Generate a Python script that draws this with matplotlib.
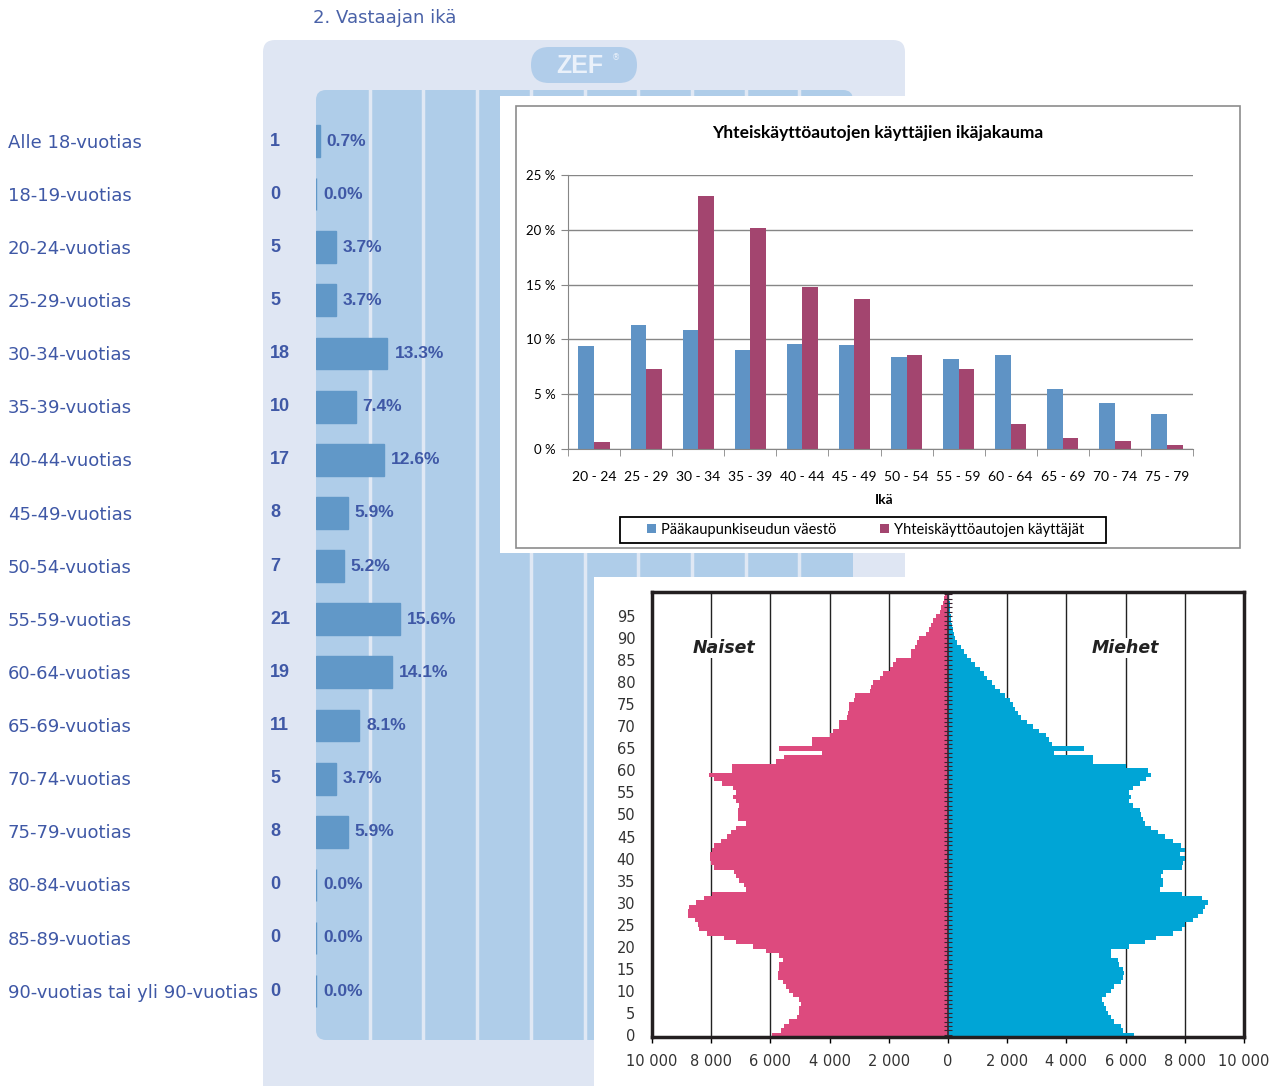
import numpy as np
import matplotlib
matplotlib.use('Agg')
import matplotlib.pyplot as plt
from matplotlib.patches import FancyBboxPatch, Rectangle
from matplotlib.ticker import FuncFormatter

W, H = 1274, 1086

# survey answers (ZEF report)
age_groups = ['Alle 18-vuotias', '18-19-vuotias', '20-24-vuotias', '25-29-vuotias',
              '30-34-vuotias', '35-39-vuotias', '40-44-vuotias', '45-49-vuotias',
              '50-54-vuotias', '55-59-vuotias', '60-64-vuotias', '65-69-vuotias',
              '70-74-vuotias', '75-79-vuotias', '80-84-vuotias', '85-89-vuotias',
              '90-vuotias tai yli 90-vuotias']
counts = [1, 0, 5, 5, 18, 10, 17, 8, 7, 21, 19, 11, 5, 8, 0, 0, 0]
shares = [0.7, 0.0, 3.7, 3.7, 13.3, 7.4, 12.6, 5.9, 5.2, 15.6, 14.1, 8.1, 3.7, 5.9, 0.0, 0.0, 0.0]

# car sharing users vs. population (%)
bands = ['20 - 24', '25 - 29', '30 - 34', '35 - 39', '40 - 44', '45 - 49',
         '50 - 54', '55 - 59', '60 - 64', '65 - 69', '70 - 74', '75 - 79']
pop_share = [9.4, 11.3, 10.9, 9.0, 9.6, 9.5, 8.4, 8.2, 8.6, 5.5, 4.2, 3.2]
user_share = [0.6, 7.3, 23.1, 20.2, 14.8, 13.7, 8.6, 7.3, 2.3, 1.0, 0.7, 0.4]

# population pyramid, thousands of persons by single year of age 0..100
ages = np.arange(101)
women = [5.95, 5.64, 5.53, 5.36, 5.11, 5.05, 5.02, 4.97, 5.02, 5.25,
         5.36, 5.47, 5.56, 5.74, 5.76, 5.70, 5.70, 5.59, 5.70, 6.15,
         6.60, 7.17, 7.56, 8.13, 8.41, 8.46, 8.54, 8.80, 8.80, 8.75,
         8.52, 8.24, 7.96, 6.83, 6.88, 7.05, 7.17, 7.22, 7.90, 8.00,
         8.05, 8.05, 7.96, 7.90, 7.67, 7.45, 7.34, 7.17, 6.83, 7.10,
         7.10, 7.10, 7.05, 7.15, 7.26, 7.17, 7.26, 7.64, 7.90, 8.09,
         7.30, 7.30, 5.81, 5.55, 4.25, 5.70, 4.60, 4.59, 4.00, 3.90,
         3.67, 3.67, 3.40, 3.39, 3.35, 3.33, 3.19, 3.13, 2.63, 2.60,
         2.54, 2.31, 2.18, 1.95, 1.86, 1.77, 1.24, 1.24, 1.10, 1.05,
         0.98, 0.73, 0.65, 0.56, 0.50, 0.42, 0.28, 0.23, 0.18, 0.14,
         0.10]
men = [6.30, 5.90, 5.85, 5.62, 5.51, 5.40, 5.34, 5.28, 5.19, 5.34,
       5.49, 5.62, 5.83, 5.90, 5.96, 5.90, 5.79, 5.74, 5.51, 5.51,
       6.13, 6.64, 7.04, 7.61, 7.91, 8.00, 8.29, 8.46, 8.63, 8.68,
       8.80, 8.57, 7.89, 7.15, 7.27, 7.27, 7.21, 7.27, 7.90, 7.95,
       8.00, 7.83, 8.00, 7.87, 7.60, 7.32, 7.10, 6.87, 6.64, 6.59,
       6.53, 6.47, 6.25, 6.13, 6.19, 6.13, 6.25, 6.47, 6.70, 6.87,
       6.76, 6.02, 4.89, 4.89, 3.58, 4.60, 3.53, 3.41, 3.30, 3.07,
       2.88, 2.68, 2.47, 2.36, 2.28, 2.20, 2.11, 1.94, 1.77, 1.60,
       1.49, 1.32, 1.20, 1.07, 0.92, 0.77, 0.63, 0.54, 0.43, 0.32,
       0.24, 0.20, 0.18, 0.12, 0.11, 0.10, 0.08, 0.07, 0.06, 0.05,
       0.05]

NARROW = ['Liberation Sans Narrow', 'DejaVu Sans']
ZEF_TXT = '#3f58a6'

fig = plt.figure(figsize=(W / 100, H / 100), dpi=100)
fig.patch.set_facecolor('white')


def px_axes(x0, y0, x1, y1):
    return fig.add_axes([x0 / W, 1 - y1 / H, (x1 - x0) / W, (y1 - y0) / H])


def px_panel(x0, y0, x1, y1, fc='white'):
    ax = px_axes(x0, y0, x1, y1)
    ax.set_xlim(x0, x1)
    ax.set_ylim(y1, y0)
    ax.set_xticks([])
    ax.set_yticks([])
    for s in ax.spines.values():
        s.set_visible(False)
    ax.set_facecolor(fc)
    return ax


# ---------------- ZEF survey chart (background) ----------------
bg = px_panel(0, 0, W, H)
bg.text(313, 18, '2. Vastaajan ikä', fontsize=13, color='#4a62a8', va='center')
bg.add_patch(FancyBboxPatch((263, 40), 642, 1080, boxstyle='round,pad=0,rounding_size=12',
                            fc='#dfe6f3', ec='none'))
bg.add_patch(FancyBboxPatch((531, 47), 106, 36, boxstyle='round,pad=0,rounding_size=18',
                            fc='#b1cdea', ec='none'))
bg.text(580, 66, 'ZEF', fontsize=18, fontweight='bold', color='#eaf1fa',
        ha='center', va='center', family='Liberation Sans')
bg.text(616, 58, '®', fontsize=6, color='#eaf1fa', ha='center', va='center')
bg.add_patch(FancyBboxPatch((316, 90), 537, 950, boxstyle='round,pad=0,rounding_size=10',
                            fc='#afcde9', ec='none'))

ax_z = px_axes(316, 90, 853, 1040)
ax_z.set_facecolor('none')
for s in ax_z.spines.values():
    s.set_visible(False)
ax_z.set_xlim(0, 100)
ax_z.set_ylim(16.92, -0.96)
ax_z.set_xticks(np.arange(10, 100, 10))
ax_z.set_yticks([])
ax_z.tick_params(length=0, labelbottom=False)
ax_z.grid(axis='x', color='#e0e8f4', linewidth=2.5)
ax_z.set_axisbelow(True)

rows = np.arange(len(age_groups))
ax_z.barh(rows, shares, height=0.6, color='#6198c8', edgecolor='#6198c8', linewidth=1)
ytr = ax_z.get_yaxis_transform()
for i, (lab, n, p) in enumerate(zip(age_groups, counts, shares)):
    ax_z.text(-0.5736, i + 0.03, lab, transform=ytr, fontsize=13, color=ZEF_TXT,
              va='center', ha='left', clip_on=False)
    ax_z.text(-0.0857, i, str(n), transform=ytr, fontsize=13, fontweight='bold',
              color=ZEF_TXT, va='center', ha='left', family='Liberation Sans', clip_on=False)
    ax_z.text(p + 1.3, i, f'{p:.1f}%', fontsize=12.5, fontweight='bold', color=ZEF_TXT,
              va='center', ha='left', family='Liberation Sans', clip_on=False)

# ---------------- Excel chart: car sharing users ----------------
ex = px_panel(500, 96, 1274, 553)
ex.add_patch(Rectangle((516, 106), 724, 442, fill=False, ec='#8c8c8c', lw=1.2))
ex.text(878, 133, 'Yhteiskäyttöautojen käyttäjien ikäjakauma', fontsize=12.5,
        fontweight='bold', ha='center', va='center', family='Lato')
ex.text(884, 500, 'Ikä', fontsize=10, fontweight='bold', ha='center', va='center', family='Lato')
ex.add_patch(Rectangle((620, 517), 486, 26, fill=False, ec='black', lw=1.3))

ax_e = px_axes(568, 175, 1193, 449)
x = np.arange(len(bands))
b1 = ax_e.bar(x - 0.15, pop_share, 0.3, color='#5f93c5', label='Pääkaupunkiseudun väestö')
b2 = ax_e.bar(x + 0.15, user_share, 0.3, color='#a3456f', label='Yhteiskäyttöautojen käyttäjät')
ax_e.set_xlim(-0.5, len(bands) - 0.5)
ax_e.set_ylim(0, 25)
ax_e.set_yticks(np.arange(0, 26, 5))
ax_e.set_yticklabels([f'{v} %' for v in range(0, 26, 5)], family='Lato', fontsize=9.5)
ax_e.set_xticks(x)
ax_e.set_xticklabels(bands, family='Lato', fontsize=10)
ax_e.set_xticks(np.arange(-0.5, len(bands)), minor=True)
ax_e.tick_params(axis='x', which='major', length=0, pad=16)
ax_e.tick_params(axis='x', which='minor', length=5, color='#868686')
ax_e.tick_params(axis='y', length=5, color='#868686', pad=4)
ax_e.grid(axis='y', color='#868686', linewidth=1)
ax_e.set_axisbelow(True)
for s in ['top', 'right']:
    ax_e.spines[s].set_visible(False)
for s in ['left', 'bottom']:
    ax_e.spines[s].set_color('#868686')
fig.legend(handles=[b1, b2], loc='center', bbox_to_anchor=(866 / W, 1 - 530 / H),
           ncol=2, frameon=False, handlelength=0.6, handleheight=0.6,
           handletextpad=0.35, columnspacing=3.0, prop={'family': 'Lato', 'size': 10.5})

# ---------------- Population pyramid ----------------
pp = px_panel(594, 577, 1274, 1086)
ax_p = px_axes(652, 592, 1244, 1037)
ax_p.barh(ages, -np.array(women) * 1000, height=1.0, color='#dd4a7e', linewidth=0)
ax_p.barh(ages, np.array(men) * 1000, height=1.0, color='#00a5d6', linewidth=0)
ax_p.vlines(0, -0.5, 100.5, color='#3a2430', linewidth=1.2)
ax_p.hlines(ages, -120, 120, color='#3a2430', linewidth=0.8)
ax_p.set_xlim(-10000, 10000)
ax_p.set_ylim(-0.5, 100.5)
ax_p.set_xticks(np.arange(-10000, 10001, 2000))
ax_p.xaxis.set_major_formatter(FuncFormatter(lambda v, _: f'{abs(int(v)):,}'.replace(',', ' ')))
ax_p.set_yticks(np.arange(0, 100, 5))
ax_p.grid(axis='x', color='#222222', linewidth=1)
ax_p.set_axisbelow(True)
ax_p.tick_params(axis='x', length=4, width=1, labelsize=10.5, pad=8)
ax_p.tick_params(axis='y', length=0, labelsize=10.5, pad=12)
for lab in ax_p.get_xticklabels() + ax_p.get_yticklabels():
    lab.set_family(NARROW)
    lab.set_color('#333333')
for s in ax_p.spines.values():
    s.set_linewidth(2.5)
    s.set_color('#231f20')
for name, xv in [('Naiset', -7570), ('Miehet', 5980)]:
    ax_p.text(xv, 87.8, name, fontsize=12.5, fontweight='bold', style='italic',
              ha='center', va='center', color='#222222', family=NARROW,
              bbox=dict(fc='white', ec='none', pad=1))

fig.savefig('out.png', dpi=100)
